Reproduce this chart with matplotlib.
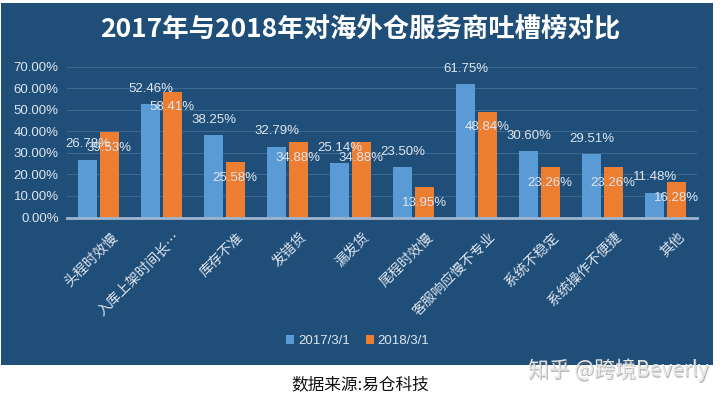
import numpy as np
import matplotlib.pyplot as plt
import matplotlib.transforms as mtrans
from matplotlib.patches import Rectangle

plt.rcParams['font.family'] = ['Noto Sans CJK SC', 'DejaVu Sans']

categories = ['头程时效慢', '入库上架时间长…', '库存不准', '发错货', '漏发货',
              '尾程时效慢', '客服响应慢不专业', '系统不稳定', '系统操作不便捷', '其他']
vals2017 = [26.78, 52.46, 38.25, 32.79, 25.14, 23.50, 61.75, 30.60, 29.51, 11.48]
vals2018 = [39.53, 58.41, 25.58, 34.88, 34.88, 13.95, 48.84, 23.26, 23.26, 16.28]
series_names = ['2017/3/1', '2018/3/1']
yticks = [0, 10, 20, 30, 40, 50, 60, 70]

bg = '#1f4e79'
txt = '#dfe6ee'
blue = '#5b9bd5'
orange = '#ed7d31'

fig = plt.figure(figsize=(7.2, 3.99), dpi=100)
fig.patch.set_facecolor('white')

# dark panel behind the chart
W, H = 720, 399
fig.patches.append(Rectangle((1/W, 1-365/H), 712/W, 362/H, transform=fig.transFigure,
                             facecolor=bg, edgecolor='none', zorder=-10))

ax = fig.add_axes([67/W, 1-217.5/H, 630/W, 151/H])
ax.set_facecolor(bg)
ax.set_zorder(1)

x = np.arange(len(categories))
w = 0.3
off = 0.17
b1 = ax.bar(x - off, vals2017, w, color=blue, label=series_names[0], zorder=3)
b2 = ax.bar(x + off, vals2018, w, color=orange, label=series_names[1], zorder=3)

lab_font = ['Liberation Sans', 'Noto Sans CJK SC']
for xi, v in zip(x, vals2017):
    ax.annotate('%.2f%%' % v, (xi - off, v), xytext=(0, 11), textcoords='offset points',
                ha='center', va='center', color=txt, fontsize=9.5, family=lab_font, zorder=4)
for xi, v in zip(x, vals2018):
    ax.annotate('%.2f%%' % v, (xi + off, v), xytext=(0, -11), textcoords='offset points',
                ha='center', va='center', color=txt, fontsize=9.5, family=lab_font, zorder=4)

ax.set_xlim(-0.5, len(categories) - 0.5)
ax.set_ylim(0, 70)
ax.set_yticks(yticks)
ax.set_yticklabels(['%.2f%%' % t for t in yticks], family=lab_font, fontsize=9.5, color=txt)
ax.yaxis.grid(True, color='#3c6890', linewidth=0.8, zorder=0)
ax.set_axisbelow(True)
ax.set_xticks(x)
ax.set_xticklabels(categories, rotation=45, ha='right', rotation_mode='anchor',
                   fontsize=10, color=txt)
ax.tick_params(axis='y', length=0, pad=6)
ax.tick_params(axis='x', length=0, pad=9)
# nudge the category labels right, like the original
shift = mtrans.ScaledTranslation(12/100, 0, fig.dpi_scale_trans)
for lbl in ax.get_xticklabels():
    lbl.set_transform(lbl.get_transform() + shift)
for s in ['top', 'right', 'left']:
    ax.spines[s].set_visible(False)
ax.spines['bottom'].set_color('#9db5d1')
ax.spines['bottom'].set_linewidth(2)
ax.spines['bottom'].set_zorder(5)

fig.text(0.5, 1-30/H, '2017年与2018年对海外仓服务商吐槽榜对比', ha='center', va='center',
         fontsize=19, fontweight='bold', color='white')

leg = fig.legend(loc='center', bbox_to_anchor=(358/W, 1-341/H), ncol=2, frameon=False,
                 fontsize=9.5, handlelength=0.6, handleheight=0.6, handletextpad=0.3,
                 columnspacing=1.2)
for t in leg.get_texts():
    t.set_color(txt)
    t.set_family(lab_font)

fig.text(0.5, 1-385/H, '数据来源:易仓科技', ha='center', va='center', fontsize=12, color='#111111')
fig.text(618/W + 0.002, 1-370/H - 0.003, '知乎 @跨境Beverly', ha='center', va='center',
         fontsize=15, color='#777777', alpha=0.5, zorder=5)
fig.text(618/W, 1-370/H, '知乎 @跨境Beverly', ha='center', va='center',
         fontsize=15, color='#e4e4e4', zorder=6)

fig.savefig('out.png', dpi=100, facecolor=fig.get_facecolor())
